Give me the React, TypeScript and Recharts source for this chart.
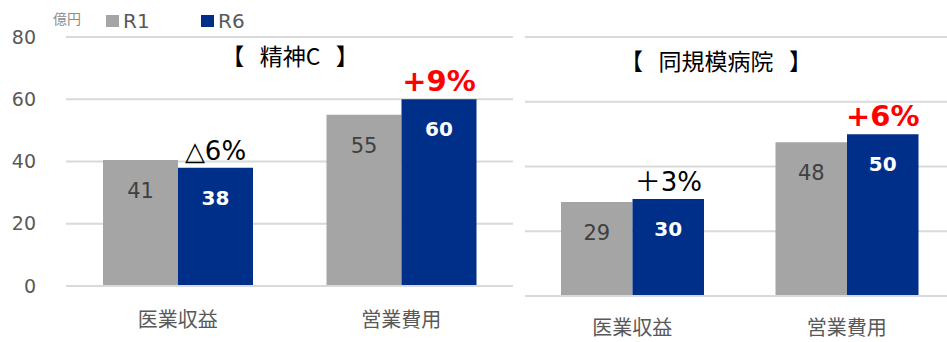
import React from 'react';
import { BarChart, Bar, XAxis, YAxis, CartesianGrid, LabelList } from 'recharts';

// 億円
const categories = ['医業収益', '営業費用'];
const seishinR1 = [40.5, 55];
const seishinR6 = [38, 60];
const peerR1 = [29, 47.5];
const peerR6 = [30, 50];
const seishinNotes = ['△6%', '+9%'];
const peerNotes = ['＋3%', '+6%'];
const noteHighlight = [false, true];
const yTicks = [0, 20, 40, 60, 80];

const series = [
  { key: 'R1', name: 'R1', color: '#A5A5A5' },
  { key: 'R6', name: 'R6', color: '#002F8A' },
];

const latin = "'DejaVu Sans', 'Noto Sans CJK JP', sans-serif";
const cjk = "'Noto Sans CJK JP', 'DejaVu Sans', sans-serif";
const gridColor = '#D9D9D9';

const buildRows = (r1: number[], r6: number[]) =>
  categories.map((name, i) => ({ name, R1: r1[i], R6: r6[i] }));

// change-rate note drawn above the R6 bar
const makeNote = (notes: string[]) => (props: any) => {
  const { x, y, width, index } = props;
  const hot = noteHighlight[index];
  return (
    <text
      x={x + width / 2}
      y={y - 8}
      textAnchor="middle"
      fill={hot ? '#FF0000' : '#000000'}
      fontSize={hot ? 29 : 26}
      fontWeight={hot ? 'bold' : 'normal'}
      fontFamily={latin}
    >
      {notes[index]}
    </text>
  );
};

const fmt = (v: any) => Number(v).toFixed(0);

function Panel({
  r1, r6, notes, width, showAxis, marginLeft, xHeight, tickGap, barSize,
}: {
  r1: number[]; r6: number[]; notes: string[]; width: number;
  showAxis: boolean; marginLeft: number; xHeight: number; tickGap: number; barSize: number;
}) {
  const rows = buildRows(r1, r6);
  return (
    <BarChart
      width={width}
      height={342}
      data={rows}
      margin={{ top: 37, right: 6, bottom: 0, left: marginLeft }}
      barGap={0}
      barSize={barSize}
    >
      <CartesianGrid vertical={false} stroke={gridColor} strokeWidth={2} />
      <XAxis
        dataKey="name"
        height={xHeight}
        tickSize={0}
        tickMargin={tickGap}
        axisLine={{ stroke: gridColor, strokeWidth: 2 }}
        tick={{ fill: '#595959', fontSize: 20, fontFamily: cjk }}
      />
      <YAxis
        hide={!showAxis}
        width={66}
        domain={[0, 80]}
        ticks={yTicks}
        axisLine={false}
        tickLine={false}
        tickSize={0}
        tickMargin={30}
        tick={{ fill: '#595959', fontSize: 19, fontFamily: latin }}
      />
      <Bar dataKey="R1" fill={series[0].color} isAnimationActive={false}>
        <LabelList
          dataKey="R1"
          position="insideTop"
          offset={23}
          formatter={fmt}
          style={{ fill: '#404040', fontSize: 21, fontFamily: latin }}
        />
      </Bar>
      <Bar dataKey="R6" fill={series[1].color} isAnimationActive={false}>
        <LabelList
          dataKey="R6"
          position="insideTop"
          offset={23}
          formatter={fmt}
          style={{ fill: '#FFFFFF', fontSize: 20, fontWeight: 'bold', fontFamily: latin }}
        />
        <LabelList dataKey="R6" content={makeNote(notes)} />
      </Bar>
    </BarChart>
  );
}

export default function App() {
  return (
    <div
      style={{
        position: 'absolute', left: 0, top: 0, width: 947, height: 342,
        overflow: 'hidden', background: '#FFFFFF',
      }}
    >
      <div style={{ position: 'absolute', left: 0, top: 0 }}>
        <Panel r1={seishinR1} r6={seishinR6} notes={seishinNotes} width={519}
          showAxis marginLeft={0} xHeight={56} tickGap={27} barSize={75} />
      </div>
      <div style={{ position: 'absolute', left: 519, top: 0 }}>
        <Panel r1={peerR1} r6={peerR6} notes={peerNotes} width={441}
          showAxis={false} marginLeft={6} xHeight={46} tickGap={25} barSize={71.5} />
      </div>

      {/* legend */}
      <div style={{ position: 'absolute', left: 53, top: 10, fontFamily: cjk, fontSize: 14, color: '#8C8C8C', lineHeight: '17px' }}>
        億円
      </div>
      {series.map((s, i) => (
        <div key={s.key} style={{ position: 'absolute', left: 106 + i * 95, top: 10, display: 'flex', alignItems: 'center', height: 22 }}>
          <div style={{ width: 13, height: 12, background: s.color, marginRight: 4 }} />
          <span style={{ fontFamily: latin, fontSize: 20, color: '#595959' }}>{s.name}</span>
        </div>
      ))}

      {/* titles */}
      <div style={{ position: 'absolute', left: 290, top: 43, transform: 'translateX(-50%)', fontFamily: cjk, fontSize: 23, lineHeight: '24px', whiteSpace: 'pre', color: '#000' }}>
        {'【   精神C   】'}
      </div>
      <div style={{ position: 'absolute', left: 716, top: 48, transform: 'translateX(-50%)', fontFamily: cjk, fontSize: 23, lineHeight: '24px', whiteSpace: 'pre', color: '#000' }}>
        {'【   同規模病院   】'}
      </div>
    </div>
  );
}
